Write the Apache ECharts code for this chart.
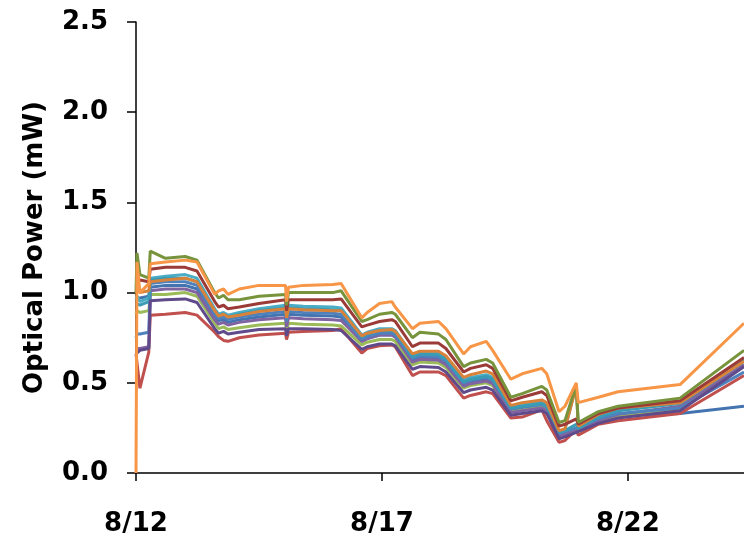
<!DOCTYPE html>
<html>
<head>
<meta charset="utf-8">
<script src="https://cdn.jsdelivr.net/npm/echarts@6/dist/echarts.min.js"></script>
<style>
  html, body { margin: 0; padding: 0; background: #ffffff; }
  #chart { width: 744px; height: 537px; }
</style>
</head>
<body>
<div id="chart"></div>
<script>
// Elapsed time in days since 8/12 00:00 for every logged sample
const days = [0, 0.02, 0.08, 0.26, 0.29, 0.6, 1.0, 1.24, 1.6, 1.68, 1.78, 1.87, 2.1, 2.5, 3.04, 3.06, 3.1, 3.4, 4.0, 4.17,
  4.59, 4.7, 4.95, 5.2, 5.27, 5.62, 5.77, 6.15, 6.3, 6.66, 6.8, 7.12, 7.25, 7.62, 7.85, 8.25, 8.35, 8.6, 8.72, 8.95,
  8.99, 9.4, 9.8, 11.06, 12.36];

// Optical power of each channel (mW)
const ch1 = [0.97, 0.98, 0.97, 0.98, 1.03, 1.04, 1.04, 1.02, 0.87, 0.845, 0.85, 0.835, 0.85, 0.865, 0.88, 0.83, 0.88, 0.875, 0.87, 0.865,
  0.73, 0.745, 0.765, 0.765, 0.755, 0.625, 0.64, 0.635, 0.61, 0.49, 0.505, 0.52, 0.505, 0.345, 0.355, 0.37, 0.355, 0.215, 0.225, 0.245,
  0.235, 0.295, 0.32, 0.33, 0.37];
const ch2 = [0.66, 0.66, 0.47, 0.67, 0.875, 0.88, 0.89, 0.875, 0.78, 0.755, 0.735, 0.73, 0.75, 0.765, 0.775, 0.74, 0.78, 0.785, 0.79, 0.80,
  0.665, 0.69, 0.705, 0.71, 0.70, 0.54, 0.56, 0.56, 0.54, 0.415, 0.43, 0.45, 0.44, 0.305, 0.31, 0.35, 0.29, 0.17, 0.18, 0.24,
  0.21, 0.27, 0.29, 0.33, 0.54];
const ch3 = [0.88, 0.90, 0.89, 0.90, 0.99, 0.99, 1.0, 0.98, 0.83, 0.80, 0.81, 0.795, 0.805, 0.82, 0.83, 0.78, 0.83, 0.825, 0.82, 0.815,
  0.71, 0.725, 0.74, 0.74, 0.73, 0.60, 0.615, 0.61, 0.585, 0.47, 0.485, 0.50, 0.485, 0.34, 0.35, 0.365, 0.35, 0.21, 0.22, 0.24,
  0.23, 0.285, 0.315, 0.35, 0.60];
const ch4 = [0.69, 0.70, 0.69, 0.70, 1.01, 1.02, 1.02, 1.0, 0.85, 0.825, 0.835, 0.82, 0.835, 0.85, 0.86, 0.81, 0.86, 0.855, 0.85, 0.845,
  0.73, 0.745, 0.765, 0.765, 0.755, 0.615, 0.63, 0.625, 0.60, 0.48, 0.495, 0.51, 0.495, 0.335, 0.345, 0.36, 0.345, 0.205, 0.215, 0.235,
  0.225, 0.29, 0.325, 0.37, 0.60];
const ch5 = [0.96, 0.98, 0.95, 0.97, 1.08, 1.09, 1.10, 1.08, 0.91, 0.88, 0.89, 0.875, 0.89, 0.91, 0.93, 0.88, 0.93, 0.925, 0.92, 0.915,
  0.765, 0.78, 0.80, 0.80, 0.79, 0.655, 0.67, 0.665, 0.64, 0.515, 0.53, 0.545, 0.53, 0.365, 0.38, 0.395, 0.38, 0.23, 0.24, 0.49,
  0.255, 0.32, 0.355, 0.39, 0.63];
const ch6 = [0.75, 0.77, 0.77, 0.78, 1.05, 1.06, 1.06, 1.04, 0.88, 0.855, 0.865, 0.85, 0.865, 0.88, 0.895, 0.84, 0.895, 0.89, 0.885, 0.88,
  0.74, 0.755, 0.775, 0.775, 0.765, 0.635, 0.65, 0.645, 0.62, 0.50, 0.515, 0.53, 0.515, 0.355, 0.365, 0.38, 0.365, 0.22, 0.23, 0.25,
  0.24, 0.30, 0.33, 0.36, 0.56];
const ch7 = [0.94, 0.95, 0.93, 0.95, 1.07, 1.08, 1.08, 1.06, 0.90, 0.87, 0.88, 0.865, 0.88, 0.90, 0.915, 0.86, 0.915, 0.91, 0.905, 0.90,
  0.755, 0.77, 0.79, 0.79, 0.78, 0.645, 0.66, 0.655, 0.63, 0.505, 0.52, 0.535, 0.52, 0.36, 0.37, 0.385, 0.37, 0.225, 0.235, 0.27,
  0.245, 0.31, 0.345, 0.385, 0.62];
const ch8 = [0.66, 0.67, 0.68, 0.69, 0.955, 0.96, 0.965, 0.945, 0.80, 0.775, 0.785, 0.77, 0.78, 0.795, 0.80, 0.76, 0.80, 0.80, 0.795, 0.79,
  0.685, 0.70, 0.715, 0.715, 0.705, 0.575, 0.59, 0.585, 0.56, 0.445, 0.46, 0.475, 0.46, 0.32, 0.33, 0.345, 0.33, 0.19, 0.20, 0.225,
  0.215, 0.275, 0.305, 0.345, 0.59];
const ch9 = [1.0, 1.02, 1.0, 1.01, 1.06, 1.07, 1.08, 1.06, 0.90, 0.87, 0.88, 0.865, 0.875, 0.895, 0.91, 0.86, 0.91, 0.905, 0.90, 0.90,
  0.76, 0.775, 0.79, 0.795, 0.785, 0.66, 0.675, 0.675, 0.65, 0.53, 0.545, 0.565, 0.55, 0.375, 0.39, 0.405, 0.39, 0.235, 0.245, 0.48,
  0.26, 0.325, 0.36, 0.39, 0.62];
const ch10 = [1.05, 1.06, 1.07, 1.06, 1.13, 1.14, 1.14, 1.12, 0.95, 0.92, 0.93, 0.91, 0.92, 0.94, 0.96, 0.90, 0.96, 0.96, 0.96, 0.965,
  0.81, 0.82, 0.84, 0.85, 0.84, 0.70, 0.72, 0.72, 0.69, 0.56, 0.58, 0.60, 0.58, 0.40, 0.42, 0.45, 0.43, 0.26, 0.27, 0.30,
  0.27, 0.33, 0.36, 0.40, 0.64];
const ch11 = [1.0, 1.22, 1.1, 1.08, 1.23, 1.19, 1.20, 1.18, 1.0, 0.97, 0.985, 0.96, 0.96, 0.98, 0.99, 0.93, 1.0, 1.0, 1.0, 1.01,
  0.84, 0.85, 0.88, 0.89, 0.88, 0.75, 0.78, 0.77, 0.74, 0.59, 0.61, 0.63, 0.61, 0.42, 0.44, 0.48, 0.46, 0.28, 0.29, 0.49,
  0.28, 0.34, 0.37, 0.415, 0.68];
const ch12 = [0.0, 1.17, 1.0, 1.05, 1.16, 1.17, 1.18, 1.17, 0.99, 1.01, 1.02, 0.99, 1.02, 1.04, 1.04, 0.95, 1.03, 1.04, 1.045, 1.05,
  0.86, 0.89, 0.94, 0.95, 0.92, 0.80, 0.83, 0.84, 0.80, 0.66, 0.70, 0.73, 0.68, 0.52, 0.55, 0.58, 0.55, 0.34, 0.37, 0.50,
  0.39, 0.42, 0.45, 0.49, 0.83];

const channels = [ch1, ch2, ch3, ch4, ch5, ch6, ch7, ch8, ch9, ch10, ch11, ch12];
const palette = ['#4374b0', '#c0504d', '#9bbb59', '#8064a2', '#4bacc6', '#4f81bd',
                 '#3a9bb5', '#5f4b8b', '#d9823a', '#9b3b38', '#77933c', '#f79646'];

// Date axis ticks: day offset from 8/12
const dateTicks = [0, 5, 10];
const startDay = 12;

const chart = echarts.init(document.getElementById('chart'), null, { renderer: 'canvas' });

const labelFont = { fontFamily: 'DejaVu Sans', fontWeight: 'bold', fontSize: 26, color: '#000' };

chart.setOption({
  animation: false,
  backgroundColor: '#ffffff',
  grid: { left: 136, right: 0, top: 22, bottom: 64, containLabel: false },
  xAxis: {
    type: 'value',
    min: 0,
    max: 12.36,
    interval: 5,
    axisLine: { lineStyle: { color: '#000', width: 1.5 } },
    axisTick: { show: true, length: 8, lineStyle: { color: '#000', width: 1.5 }, customValues: dateTicks },
    axisLabel: Object.assign({
      margin: 38,
      customValues: dateTicks,
      formatter: v => '8/' + (startDay + Math.round(v))
    }, labelFont),
    splitLine: { show: false }
  },
  yAxis: {
    type: 'value',
    min: 0,
    max: 2.5,
    interval: 0.5,
    name: 'Optical Power (mW)',
    nameLocation: 'middle',
    nameGap: 88,
    nameTextStyle: { fontFamily: 'DejaVu Sans', fontWeight: 'bold', fontSize: 26, color: '#000' },
    axisLine: { show: true, lineStyle: { color: '#000', width: 1.5 } },
    axisTick: { show: true, length: 9, lineStyle: { color: '#000', width: 1.5 } },
    axisLabel: Object.assign({ margin: 28, formatter: v => v.toFixed(1) }, labelFont),
    splitLine: { show: false }
  },
  series: channels.map((vals, i) => ({
    type: 'line',
    name: 'Ch ' + (i + 1),
    data: days.map((d, k) => [d, vals[k]]),
    showSymbol: false,
    smooth: false,
    clip: true,
    lineStyle: { color: palette[i], width: 3 },
    itemStyle: { color: palette[i] },
    z: 2 + i
  }))
});
</script>
</body>
</html>
